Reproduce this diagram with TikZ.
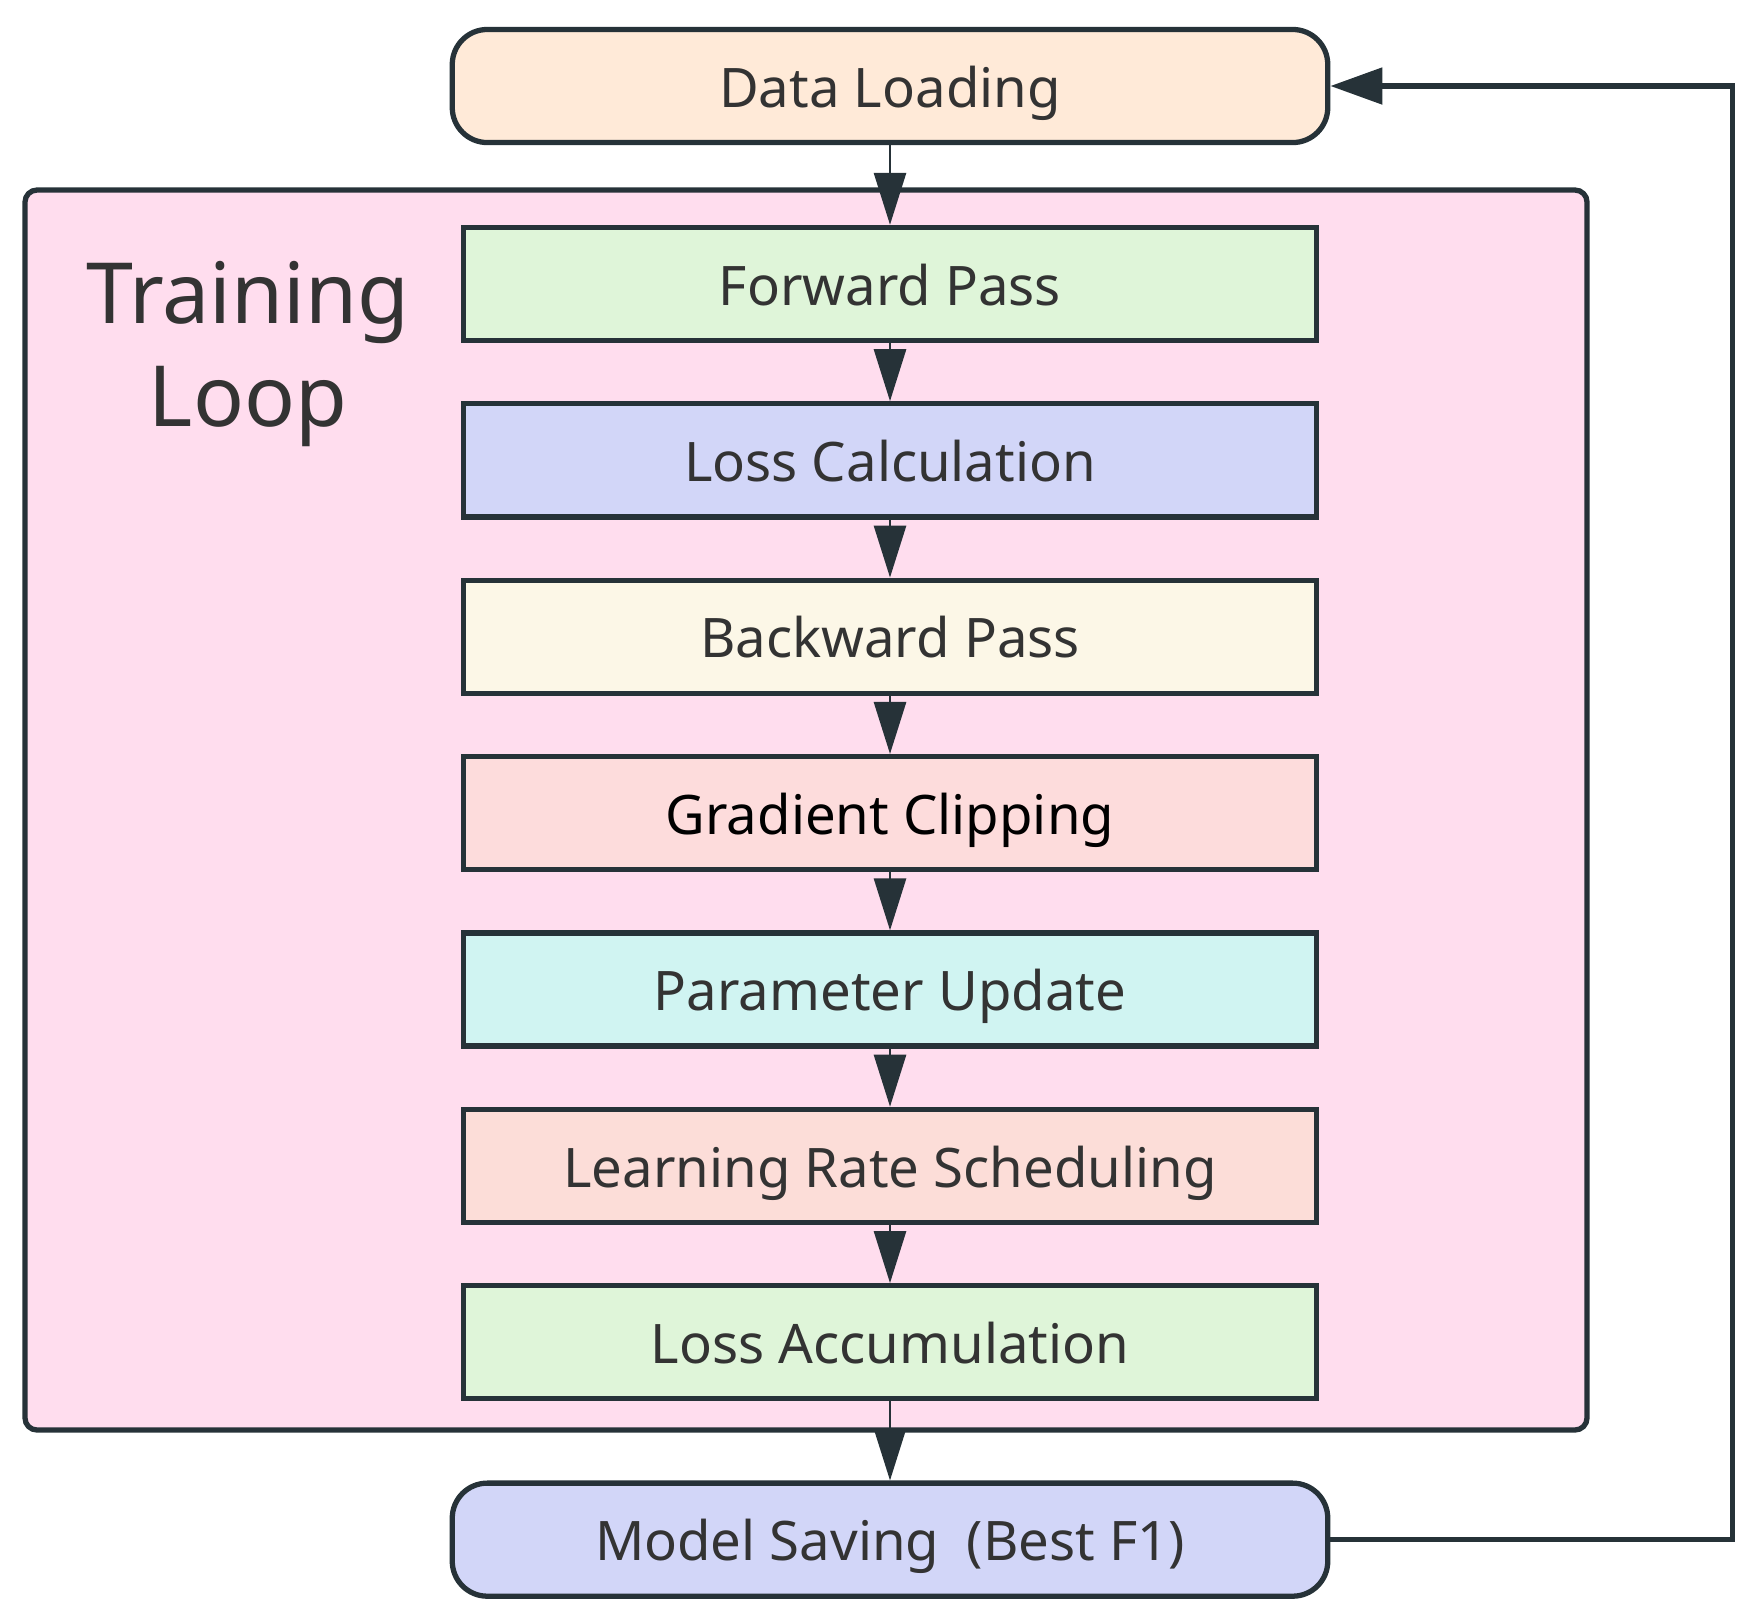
\documentclass[tikz,border=0pt]{standalone}
\usepackage{fontspec}
\setmainfont{Noto Sans}
\usetikzlibrary{arrows.meta,positioning}
\definecolor{Bord}{HTML}{263238}
\definecolor{Texte}{HTML}{333333}
\definecolor{Peche}{HTML}{FFEAD8}
\definecolor{Rose}{HTML}{FFDDEE}
\definecolor{Vert}{HTML}{DFF5D9}
\definecolor{Lavande}{HTML}{D2D6F8}
\definecolor{Creme}{HTML}{FCF7E7}
\definecolor{Saumon}{HTML}{FDDCDC}
\definecolor{Cyan}{HTML}{D0F4F2}
\definecolor{Corail}{HTML}{FCDDD8}
\tikzset{
Boite/.style={
 draw=Bord,
 line width=1.5pt,
 minimum width=8.53cm,
 minimum height=1.13cm,
 text height=15pt,
 text depth=3pt,
 text=Texte,
 font=\fontsize{15.5}{18}\selectfont
 },
Capsule/.style={
 Boite,
 rounded corners=0.35cm,
 minimum width=8.75cm
 },
Cadre/.style={
 draw=Bord,
 fill=Rose,
 line width=1.5pt,
 rounded corners=0.12cm
 },
Fleche/.style={
 draw=Bord,
 line width=0.8pt,
 -{Triangle[length=0.52cm,width=0.32cm]}
 },
Retour/.style={
 draw=Bord,
 line width=1.5pt,
 -{Triangle[length=0.52cm,width=0.36cm]}
 }
}
\begin{document}
\begin{tikzpicture}[x=0.01cm,y=-0.01cm]
\useasboundingbox (0,0) rectangle (1749,1620);
\draw[Cadre] (25,190) rectangle (1587,1430);
\node[text=Texte, align=center, font=\fontsize{24}{29.5}\selectfont] (titre) at (248,354) {Training\\Loop};
\node[Capsule, fill=Peche] (chargement) at (890,86) {Data Loading};
\node[Boite, fill=Vert] (avant) at (890,284) {Forward Pass};
\node[Boite, fill=Lavande, below=0.58cm of avant] (perte) {Loss Calculation};
\node[Boite, fill=Creme, below=0.58cm of perte] (arriere) {Backward Pass};
\node[Boite, fill=Saumon, text=black, below=0.58cm of arriere] (gradient) {Gradient Clipping};
\node[Boite, fill=Cyan, below=0.58cm of gradient] (maj) {Parameter Update};
\node[Boite, fill=Corail, below=0.58cm of maj] (taux) {Learning Rate Scheduling};
\node[Boite, fill=Vert, below=0.58cm of taux] (cumul) {Loss Accumulation};
\node[Capsule, fill=Lavande, below=0.79cm of cumul] (sauvegarde) {Model Saving\enspace(Best F1)};
\coordinate[right=4.02cm of chargement.east] (coinhaut);
\draw[Fleche] (chargement) -- (avant);
\draw[Fleche] (avant) -- (perte);
\draw[Fleche] (perte) -- (arriere);
\draw[Fleche] (arriere) -- (gradient);
\draw[Fleche] (gradient) -- (maj);
\draw[Fleche] (maj) -- (taux);
\draw[Fleche] (taux) -- (cumul);
\draw[Fleche] (cumul) -- (sauvegarde);
\draw[Retour] (sauvegarde.east) -| (coinhaut) -- (chargement.east);
\end{tikzpicture}
\end{document}
